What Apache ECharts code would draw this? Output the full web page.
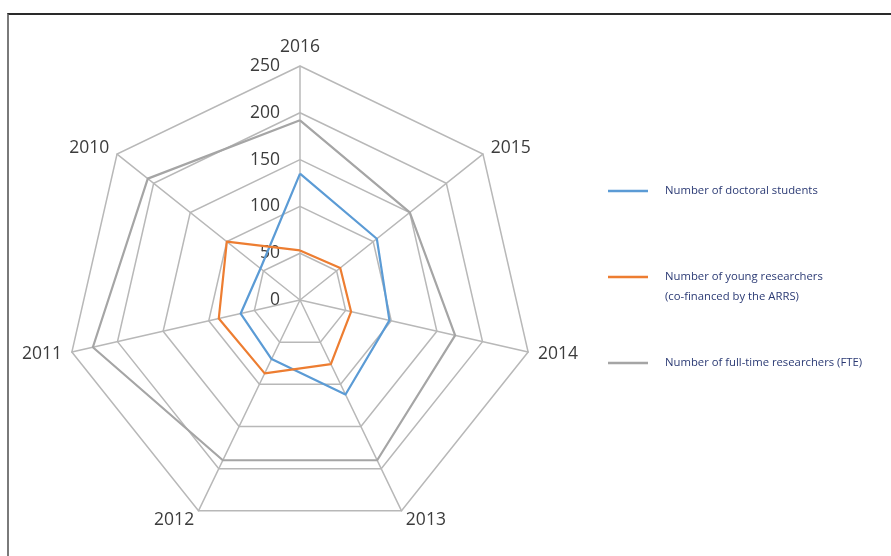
<!DOCTYPE html>
<html>
<head>
<meta charset="utf-8">
<script src="https://cdn.jsdelivr.net/npm/echarts@6/dist/echarts.min.js"></script>
<style>
  html, body { margin: 0; padding: 0; background: #fff; }
  #frame { position: absolute; left: 7px; top: 13px; width: 884px; height: 543px;
           border-top: 2px solid #2a2a2a; border-left: 2px solid #7a7a7a; box-sizing: border-box; }
  #chart { position: absolute; left: 0; top: 0; width: 891px; height: 556px; }
</style>
</head>
<body>
<div id="frame"></div>
<div id="chart"></div>
<script>
// Years, clockwise from the top of the radar
const categories = ['2016', '2015', '2014', '2013', '2012', '2011', '2010'];
const axisTicks = [0, 50, 100, 150, 200, 250];
const seriesNames = [
  'Number of doctoral students',
  'Number of young researchers\n(co-financed by the ARRS)',
  'Number of full-time researchers (FTE)'
];
// Values in the same (clockwise) order as categories
const doctoralStudents = [135, 105, 98, 112, 70, 65, 54];
const youngResearchers = [53, 55, 56, 76, 87, 89, 100];
const fullTimeResearchers = [192, 150, 170, 190, 190, 227, 208];

const colors = ['#5b9bd5', '#ed7d31', '#a5a5a5'];
const maxVal = axisTicks[axisTicks.length - 1];

// ECharts lays radar indicators counter-clockwise; reorder so the picture runs clockwise
function ccw(arr) { return [arr[0]].concat(arr.slice(1).reverse()); }

const indicators = ccw(categories).map((c, i) => {
  const ind = { name: c, max: maxVal, min: 0 };
  if (i === 0) ind.axisLabel = { show: true };
  return ind;
});

const chart = echarts.init(document.getElementById('chart'), null, { renderer: 'canvas' });
const fontFam = '"Open Sans", "Liberation Sans", sans-serif';

const legendTops = [184, 247, 356];
const legends = seriesNames.map((n, i) => ({
  data: [n],
  left: 608,
  top: legendTops[i],
  orient: 'vertical',
  padding: 0,
  icon: 'rect',
  itemWidth: 40,
  itemHeight: 2.5,
  selectedMode: false,
  formatter: (name) => (i === 1 ? '\n' + name : name),
  textStyle: {
    color: '#2b3a74',
    fontSize: 11.3,
    fontFamily: fontFam,
    lineHeight: i === 1 ? 20 : 14,
    padding: [0, 0, 0, 12]
  }
}));

const seriesData = [doctoralStudents, youngResearchers, fullTimeResearchers];

chart.setOption({
  animation: false,
  color: colors,
  legend: legends,
  radar: {
    center: [300, 300],
    radius: 234,
    startAngle: 90,
    shape: 'polygon',
    splitNumber: axisTicks.length - 1,
    indicator: indicators,
    axisName: { color: '#3c3c3c', fontSize: 17.5, fontFamily: fontFam },
    nameGap: 10,
    axisLabel: { show: false, color: '#3c3c3c', fontSize: 17.5, fontFamily: fontFam, margin: 20 },
    axisLine: { lineStyle: { color: '#b8b8b8', width: 1.5 } },
    splitLine: { lineStyle: { color: '#b8b8b8', width: 1.5 } },
    splitArea: { show: false },
    axisTick: { show: false }
  },
  series: [{
    type: 'radar',
    symbol: 'none',
    data: seriesData.map((arr, i) => ({
      name: seriesNames[i],
      value: ccw(arr),
      lineStyle: { color: colors[i], width: 2.2 },
      itemStyle: { color: colors[i] }
    }))
  }]
});
</script>
</body>
</html>
